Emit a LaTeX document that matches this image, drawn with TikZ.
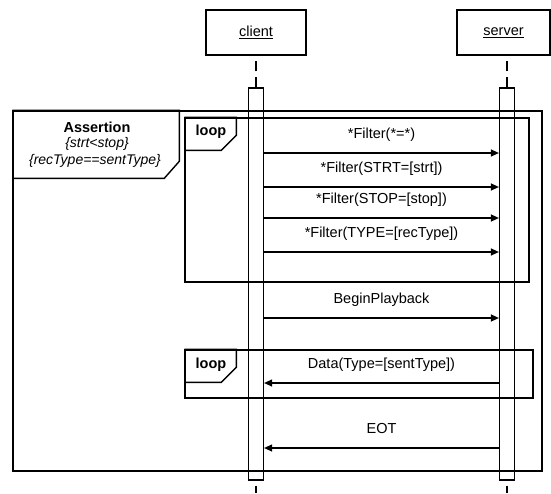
\documentclass[tikz,border=0pt]{standalone}
\usepackage{fontspec}
\setmainfont{Liberation Sans}
\usetikzlibrary{arrows.meta}

\begin{document}
\begin{tikzpicture}[x=1pt,y=-1pt,
  every node/.style={font=\fontsize{14.5}{16}\selectfont, inner sep=0pt},
  objbox/.style={draw, line width=1.2pt, minimum height=45pt},
  actbar/.style={draw, line width=1.2pt, minimum width=15pt, minimum height=392pt},
  lifeline/.style={line width=1.4pt, dash pattern=on 10pt off 6pt},
  framebox/.style={draw, line width=1.4pt},
  frameline/.style={line width=1.4pt},
  tagtext/.style={font=\fontsize{14.5}{16}\selectfont\bfseries},
  condtext/.style={font=\fontsize{14}{16}\selectfont\itshape},
  msg/.style={line width=1.2pt, -{Triangle[length=8pt,width=7pt]}},
  msglabel/.style={midway, anchor=base, yshift=15pt},
]
% canvas
\path[use as bounding box, fill=white] (0,0) rectangle (551,493);

% participants
\node[objbox, minimum width=100pt] (cbox) at (256,32.5) {\underline{client}};
\node[objbox, minimum width=93pt] (sbox) at (503.5,32.5) {\underline{server}};

% activation bars
\node[actbar] (cact) at (256,284) {};
\node[actbar] (sact) at (507,284) {};

% lifelines above and below the bars
\coordinate (cbot) at (256,493);
\coordinate (sbot) at (507,493);
\draw[lifeline] (cact.north) -- (cbox.south);
\draw[lifeline] (sact.north) -- (sact.north |- sbox.south);
\draw[lifeline, dash pattern=on 0pt off 5pt on 9pt off 10pt] (cact.south) -- (cbot);
\draw[lifeline, dash pattern=on 0pt off 5pt on 9pt off 10pt] (sact.south) -- (sbot);

% assertion frame
\node[framebox, minimum width=529pt, minimum height=360pt] (assert) at (277.5,291) {};
\draw[frameline] (assert.north west) ++(0,68) -- ++(152,0) -- ++(15,-17) |- (assert.north west);
\node[tagtext] (at1) at (97,127) {Assertion};
\node[condtext] (at2) at (97,144) {\{strt<stop\}};
\node[condtext] (at3) at (95,161) {\{recType==sentType\}};

% first loop
\node[framebox, minimum width=344pt, minimum height=164pt] (loopa) at (357,200) {};
\draw[frameline] (loopa.north west) ++(0,33) -- ++(37,0) -- ++(15,-15) |- (loopa.north west);
\node[tagtext] (la) at (211,132) {loop};

% second loop
\node[framebox, minimum width=348pt, minimum height=48pt] (loopb) at (359,374) {};
\draw[frameline] (loopb.north west) ++(0,33) -- ++(37,0) -- ++(15,-15) |- (loopb.north west);
\node[tagtext] (lb) at (211,365) {loop};

% message rows
\coordinate (r1) at (0,153);
\coordinate (r2) at (0,187);
\coordinate (r3) at (0,218);
\coordinate (r4) at (0,252);
\coordinate (r5) at (0,318);
\coordinate (r6) at (0,383);
\coordinate (r7) at (0,448);

\draw[msg] (cact.east |- r1) -- (sact.west |- r1) node[msglabel] {*Filter(*=*)};
\draw[msg] (cact.east |- r2) -- (sact.west |- r2) node[msglabel] {*Filter(STRT=[strt])};
\draw[msg] (cact.east |- r3) -- (sact.west |- r3) node[msglabel] {*Filter(STOP=[stop])};
\draw[msg] (cact.east |- r4) -- (sact.west |- r4) node[msglabel] {*Filter(TYPE=[recType])};
\draw[msg] (cact.east |- r5) -- (sact.west |- r5) node[msglabel] {BeginPlayback};
\draw[msg] (sact.west |- r6) -- (cact.east |- r6) node[msglabel] {Data(Type=[sentType])};
\draw[msg] (sact.west |- r7) -- (cact.east |- r7) node[msglabel] {EOT};
\end{tikzpicture}
\end{document}
